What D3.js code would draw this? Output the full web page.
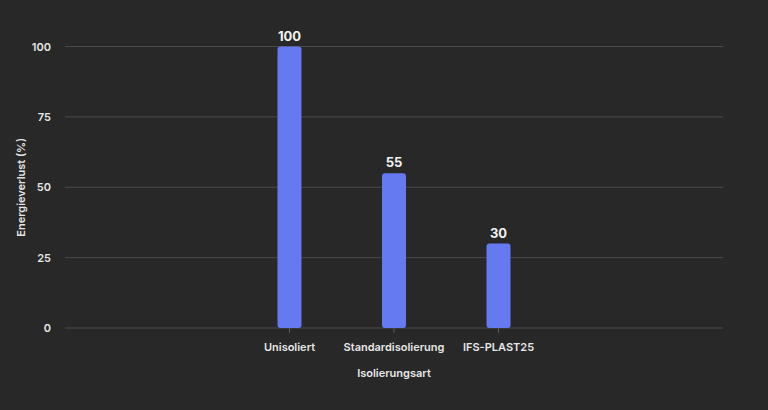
<!DOCTYPE html>
<html>
<head>
<meta charset="utf-8">
<script src="https://cdn.jsdelivr.net/npm/d3@7"></script>
<style>
  html, body { margin: 0; padding: 0; background: #282828; }
  svg { display: block; font-family: Inter, "Open Sans", sans-serif; }
</style>
</head>
<body>
<svg id="chart" width="768" height="410"></svg>
<script>
// data
const categories = ['Unisoliert', 'Standardisolierung', 'IFS-PLAST25'];
const values = [100, 55, 30];
const yTicks = [0, 25, 50, 75, 100];

const svg = d3.select('#chart');

const margin = { left: 65, right: 45, top: 46.5, bottom: 82 };
const width = 768 - margin.left - margin.right;
const height = 410 - margin.top - margin.bottom;

const g = svg.append('g')
    .attr('transform', `translate(${margin.left}, ${margin.top})`);

// bars sit in the middle of the plot, one step ~104px apart
const step = 104.5;
const mid = width / 2;
const x = d3.scaleBand()
    .domain(categories)
    .range([mid - step * 1.5, mid + step * 1.5])
    .paddingInner(0)
    .paddingOuter(0);

const y = d3.scaleLinear()
    .domain([0, 100])
    .range([height, 0]);

// grid
g.selectAll('.grid')
    .data(yTicks)
    .enter().append('line')
    .attr('x1', 0)
    .attr('x2', width)
    .attr('y1', d => y(d))
    .attr('y2', d => y(d))
    .attr('stroke', '#4a4a4a')
    .attr('stroke-width', 1);

// y axis labels
const yAxis = d3.axisLeft(y).tickValues(yTicks).tickSize(0).tickPadding(14);
g.append('g').call(yAxis)
    .call(s => s.select('.domain').remove())
    .selectAll('text')
    .attr('fill', '#e6e6e6')
    .attr('font-size', 11)
    .attr('font-weight', 600)
    .attr('font-family', 'Inter, sans-serif');

// x axis
const xAxis = d3.axisBottom(x).tickSize(5).tickPadding(10);
g.append('g')
    .attr('transform', `translate(0, ${height})`)
    .call(xAxis)
    .call(s => s.select('.domain').remove())
    .call(s => s.selectAll('line').attr('stroke', '#5a5a5a'))
    .selectAll('text')
    .attr('fill', '#e6e6e6')
    .attr('font-size', 11)
    .attr('font-weight', 600)
    .attr('font-family', 'Inter, sans-serif');

// bars
const barW = 24;
const r = 3;
g.selectAll('.bar')
    .data(values)
    .enter().append('rect')
    .attr('class', 'bar')
    .attr('x', (d, i) => x(categories[i]) + x.bandwidth() / 2 - barW / 2)
    .attr('y', d => y(d))
    .attr('width', barW)
    .attr('height', d => height - y(d))
    .attr('rx', r)
    .attr('fill', '#6579f0');

// value labels
g.selectAll('.val')
    .data(values)
    .enter().append('text')
    .attr('x', (d, i) => x(categories[i]) + x.bandwidth() / 2)
    .attr('y', d => y(d) - 6)
    .attr('text-anchor', 'middle')
    .attr('fill', '#f2f2f2')
    .attr('font-size', 13)
    .attr('font-weight', 700)
    .text(d => d);

// axis titles
svg.append('text')
    .attr('x', margin.left + width / 2)
    .attr('y', 377)
    .attr('text-anchor', 'middle')
    .attr('fill', '#e6e6e6')
    .attr('font-size', 11)
    .attr('font-weight', 600)
    .text('Isolierungsart');

svg.append('text')
    .attr('transform', `translate(25, ${margin.top + height / 2}) rotate(-90)`)
    .attr('text-anchor', 'middle')
    .attr('fill', '#e6e6e6')
    .attr('font-size', 11)
    .attr('font-weight', 600)
    .text('Energieverlust (%)');
</script>
</body>
</html>
